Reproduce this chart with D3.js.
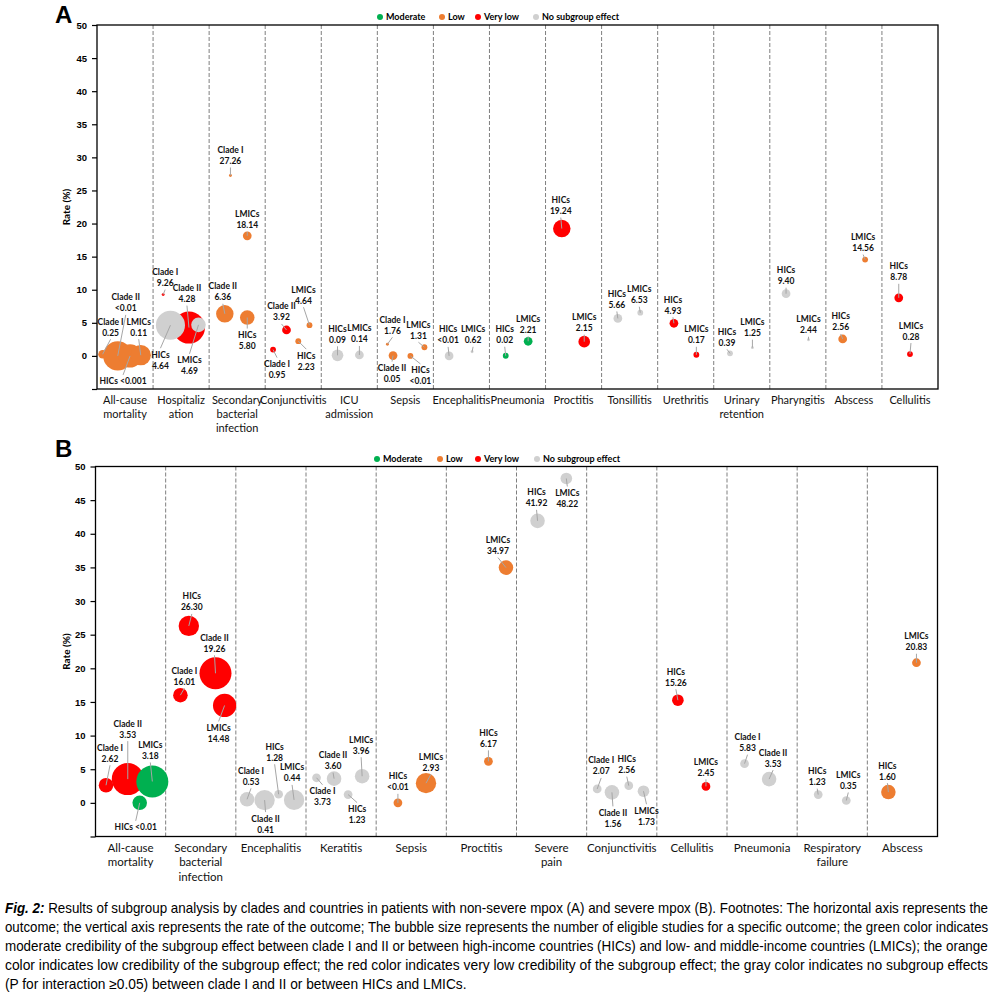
<!DOCTYPE html>
<html>
<head>
<meta charset="utf-8">
<script src="https://cdn.jsdelivr.net/npm/d3@7"></script>
<style>
  body { margin: 0; background: #fff; }
  svg { display: block; font-family: Lato, "Liberation Sans", sans-serif; }
  .tick text { font-size: 9.5px; font-weight: bold; fill: #000; }
  .tick line { stroke: #000; stroke-width: 1.2; }
</style>
</head>
<body>
<div id="chart"></div>
<script>
// Panel A: non-severe mpox
const catsA = ["All-cause\nmortality", "Hospitaliz\nation", "Secondary\nbacterial\ninfection", "Conjunctivitis",
  "ICU\nadmission", "Sepsis", "Encephalitis", "Pneumonia", "Proctitis", "Tonsillitis", "Urethritis",
  "Urinary\nretention", "Pharyngitis", "Abscess", "Cellulitis"]
const groupA = ["Clade I", "Clade II", "HICs", "LMICs",
  "Clade I", "Clade II", "HICs", "LMICs",
  "Clade I", "Clade II", "HICs", "LMICs",
  "Clade I", "Clade II", "HICs", "LMICs",
  "HICs", "LMICs",
  "Clade I", "Clade II", "HICs", "LMICs",
  "HICs", "LMICs", "HICs", "LMICs", "HICs", "LMICs", "HICs", "LMICs",
  "HICs", "LMICs", "HICs", "LMICs", "HICs", "LMICs", "HICs", "LMICs", "HICs", "LMICs"]
const xA = [0.10, 0.37, 0.59, 0.78,
  1.18, 1.64, 1.31, 1.81,
  2.38, 2.28, 2.68, 2.68,
  3.14, 3.38, 3.59, 3.79,
  4.29, 4.68,
  5.18, 5.28, 5.59, 5.84,
  6.28, 6.69, 7.29, 7.69, 8.29, 8.69, 9.29, 9.69,
  10.29, 10.69, 11.29, 11.69, 12.29, 12.69, 13.30, 13.70, 14.30, 14.50]
const rateA = [0.25, 0.005, 0.0005, 0.11,
  9.26, 4.28, 4.64, 4.69,
  27.26, 6.36, 5.80, 18.14,
  0.95, 3.92, 2.23, 4.64,
  0.09, 0.14,
  1.76, 0.05, 0.005, 1.31,
  0.005, 0.62, 0.02, 2.21, 19.24, 2.15, 5.66, 6.53,
  4.93, 0.17, 0.39, 1.25, 9.40, 2.44, 2.56, 14.56, 8.78, 0.28]
const studiesA = [3, 10, 8, 7,
  1, 11, 10, 5,
  1, 6, 5, 3,
  2, 3, 2, 2,
  4, 3,
  1, 3, 2, 2,
  3, 1, 2, 3, 6, 4, 3, 2,
  3, 2, 2, 1, 3, 1, 3, 2, 3, 2]
const credA = ["Low", "Low", "Low", "Low",
  "Very low", "Very low", "No subgroup effect", "No subgroup effect",
  "Low", "Low", "Low", "Low",
  "Very low", "Very low", "Low", "Low",
  "No subgroup effect", "No subgroup effect",
  "Low", "Low", "Low", "Low",
  "No subgroup effect", "No subgroup effect", "Moderate", "Moderate", "Very low", "Very low",
  "No subgroup effect", "No subgroup effect",
  "Very low", "Very low", "No subgroup effect", "No subgroup effect", "No subgroup effect", "No subgroup effect",
  "Low", "Low", "Very low", "Very low"]
// where the data label sits, px from the bubble centre
const labDxA = [8, 8, -7, -2, 2, -2, -10, -9, 0, -2, 0, 0, 4, -5, 8, -6, 0, 0, 5, -1, 10, -6,
  -1, 1, -1, 0, -1, 0, -1, -1, -1, 0, -3, 0, 0, 0, -2, -2, 0, 1]
const labDyA = [-27, -53, 25, -28, -17, -34, 35, 41, -20, -22, 23, -16, 20, -18, 20, -30, -21, -21, -19, 18, 20, -17,
  -21, -17, -21, -17, -23, -19, -19, -18, -18, -20, -16, -20, -18, -15, -17, -17, -26, -23]
const oneLineA = [2]

// Panel B: severe mpox
const catsB = ["All-cause\nmortality", "Secondary\nbacterial\ninfection", "Encephalitis", "Keratitis", "Sepsis",
  "Proctitis", "Severe\npain", "Conjunctivitis", "Cellulitis", "Pneumonia", "Respiratory\nfailure", "Abscess"]
const groupB = ["Clade I", "Clade II", "HICs", "LMICs",
  "Clade I", "Clade II", "HICs", "LMICs",
  "Clade I", "Clade II", "HICs", "LMICs",
  "Clade I", "Clade II", "HICs", "LMICs",
  "HICs", "LMICs", "HICs", "LMICs", "HICs", "LMICs",
  "Clade I", "Clade II", "HICs", "LMICs",
  "HICs", "LMICs", "Clade I", "Clade II", "HICs", "LMICs", "HICs", "LMICs"]
const xB = [0.15, 0.46, 0.63, 0.81,
  1.21, 1.71, 1.33, 1.84,
  2.16, 2.41, 2.61, 2.83,
  3.15, 3.40, 3.60, 3.80,
  4.31, 4.71, 5.60, 5.85, 6.30, 6.71,
  7.15, 7.36, 7.60, 7.81,
  8.30, 8.70, 9.25, 9.60, 10.30, 10.70, 11.30, 11.70]
const rateB = [2.62, 3.53, 0.005, 3.18,
  16.01, 19.26, 26.30, 14.48,
  0.53, 0.41, 1.28, 0.44,
  3.73, 3.60, 1.23, 3.96,
  0.005, 2.93, 6.17, 34.97, 41.92, 48.22,
  2.07, 1.56, 2.56, 1.73,
  15.26, 2.45, 5.83, 3.53, 1.23, 0.35, 1.60, 20.83]
const studiesB = [5, 11, 5, 11,
  5, 11, 7, 8,
  5, 7, 3, 7,
  3, 5, 3, 5,
  3, 7, 3, 5, 5, 4,
  3, 5, 3, 4,
  4, 3, 3, 5, 3, 3, 5, 3]
const credB = ["Very low", "Very low", "Moderate", "Moderate",
  "Very low", "Very low", "Very low", "Very low",
  "No subgroup effect", "No subgroup effect", "No subgroup effect", "No subgroup effect",
  "No subgroup effect", "No subgroup effect", "No subgroup effect", "No subgroup effect",
  "Low", "Low", "Low", "Low", "No subgroup effect", "No subgroup effect",
  "No subgroup effect", "No subgroup effect", "No subgroup effect", "No subgroup effect",
  "Very low", "Very low", "No subgroup effect", "No subgroup effect", "No subgroup effect", "No subgroup effect",
  "Low", "Low"]
const labDxB = [4, 0, -4, -2, 4, -1, 3, -6, 4, 1, -4, -2, 6, -1, 9, -1, 0, 5, 0, -8, -1, 1,
  4, 1, -2, 3, -2, 0, 3, 4, -1, 2, -1, 0]
const labDyB = [-32, -50, 24, -31, -19, -30, -24, 28, -23, 24, -42, -27, 19, -18, 20, -31, -21, -21, -23, -22, -23, 20,
  -23, 26, -21, 25, -23, -19, -21, -21, -18, -20, -21, -21]
const oneLineB = [2]

const legendItems = ["Moderate", "Low", "Very low", "No subgroup effect"]
const legendColors = ["#00b050", "#ed7d31", "#ff0000", "#d0d0d0"]
const yTicks = d3.range(-5, 51, 5)

const caption = [
  "Results of subgroup analysis by clades and countries in patients with non-severe mpox (A) and severe mpox (B). Footnotes: The horizontal axis represents the",
  "outcome; the vertical axis represents the rate of the outcome; The bubble size represents the number of eligible studies for a specific outcome; the green color indicates",
  "moderate credibility of the subgroup effect between clade I and II or between high-income countries (HICs) and low- and middle-income countries (LMICs); the orange",
  "color indicates low credibility of the subgroup effect; the red color indicates very low credibility of the subgroup effect; the gray color indicates no subgroup effects",
  "(P for interaction \u22650.05) between clade I and II or between HICs and LMICs."
]

const W = 993, H = 993
const svg = d3.select("#chart").append("svg").attr("width", W).attr("height", H)

const color = d3.scaleOrdinal().domain(legendItems).range(legendColors)
const radius = d3.scaleLinear().domain([0, 11]).range([0, 16])
const fmt = (v) => (v < 0.001 ? "<0.001" : v < 0.01 ? "<0.01" : v.toFixed(2))

function drawPanel(p) {
  const g = svg.append("g")
  const x = d3.scaleLinear().domain([0, p.cats.length]).range([p.left, p.right])
  const y = d3.scaleLinear().domain([-5, 50]).range([p.bottom, p.top])

  // dashed separators between outcomes
  g.selectAll(".sep")
    .data(d3.range(1, p.cats.length))
    .join("line")
    .attr("x1", (d) => x(d)).attr("x2", (d) => x(d))
    .attr("y1", p.top).attr("y2", p.bottom)
    .attr("stroke", "#7f7f7f")
    .attr("stroke-dasharray", "4,2")

  g.append("rect")
    .attr("x", p.left).attr("y", p.top)
    .attr("width", p.right - p.left).attr("height", p.bottom - p.top)
    .attr("fill", "none").attr("stroke", "#000").attr("stroke-width", 1.3)

  g.append("g")
    .attr("transform", `translate(${p.left},0)`)
    .call(d3.axisLeft(y).tickValues(yTicks).tickSize(5).tickPadding(5).tickFormat((d) => (d < 0 ? "" : d)))
    .call((a) => a.select(".domain").remove())

  g.append("text")
    .attr("transform", `translate(66,${(p.top + p.bottom) / 2}) rotate(-90)`)
    .attr("text-anchor", "middle")
    .attr("dy", "0.35em")
    .style("font-size", "10px").style("font-weight", "bold")
    .text("Rate (%)")

  // outcome names under the plot
  const cl = g.selectAll(".cat")
    .data(p.cats)
    .join("text")
    .attr("text-anchor", "middle")
    .style("font-size", p.catFont + "px")
    .attr("fill", "#111")
  cl.selectAll("tspan")
    .data((d, i) => d.split("\n").map((s) => ({ s, i })))
    .join("tspan")
    .attr("x", (d) => x(d.i + 0.5))
    .attr("y", (d, j) => p.bottom + 15 + j * p.catGap)
    .text((d) => d.s)

  // legend
  const lg = g.selectAll(".leg")
    .data(legendItems)
    .join("g")
    .attr("transform", (d, i) => `translate(${p.legX[i]},${p.legY})`)
  lg.append("circle").attr("r", 3).attr("fill", (d) => color(d))
  lg.append("text").attr("x", 6).attr("dy", "0.35em")
    .style("font-size", "9px").style("font-weight", "bold").text((d) => d)

  g.append("text")
    .attr("x", 55).attr("y", p.letterY)
    .style("font-family", "'Liberation Sans', Arial, sans-serif")
    .style("font-size", "24px").style("font-weight", "bold")
    .text(p.letter)

  const rows = p.group.map((grp, i) => ({
    grp,
    cx: x(p.xs[i]),
    cy: y(p.rate[i]),
    r: radius(p.studies[i]),
    fill: color(p.cred[i]),
    txt: fmt(p.rate[i]),
    lx: x(p.xs[i]) + p.dx[i],
    ly: y(p.rate[i]) + p.dy[i],
    one: p.oneLine.includes(i),
  }))

  g.selectAll(".bub")
    .data(rows)
    .join("circle")
    .attr("cx", (d) => d.cx).attr("cy", (d) => d.cy)
    .attr("r", (d) => d.r)
    .attr("fill", (d) => d.fill)

  // leader lines from label to bubble centre
  g.selectAll(".lead")
    .data(rows)
    .join("line")
    .attr("x1", (d) => d.lx)
    .attr("y1", (d) => d.ly + Math.sign(d.cy - d.ly) * (d.one ? 6 : 12))
    .attr("x2", (d) => d.cx).attr("y2", (d) => d.cy)
    .attr("stroke", "#a6a6a6").attr("stroke-width", 1)

  const lab = g.selectAll(".lab")
    .data(rows)
    .join("text")
    .attr("text-anchor", "middle")
    .style("font-size", "8.5px").style("font-weight", "bold")
    .attr("fill", "#111")
  lab.filter((d) => d.one)
    .attr("x", (d) => d.lx).attr("y", (d) => d.ly + 3)
    .text((d) => `${d.grp} ${d.txt}`)
  lab.filter((d) => !d.one)
    .selectAll("tspan")
    .data((d) => [d.grp, d.txt].map((s, j) => ({ s, j, d })))
    .join("tspan")
    .attr("x", (t) => t.d.lx)
    .attr("y", (t) => t.d.ly - 2.5 + t.j * 11)
    .text((t) => t.s)
}

drawPanel({
  cats: catsA, group: groupA, xs: xA, rate: rateA, studies: studiesA, cred: credA,
  dx: labDxA, dy: labDyA, oneLine: oneLineA,
  left: 97, right: 938, top: 25, bottom: 389,
  catFont: 11, catGap: 14,
  legX: [380, 442, 478, 536], legY: 17, letter: "A", letterY: 23,
})

drawPanel({
  cats: catsB, group: groupB, xs: xB, rate: rateB, studies: studiesB, cred: credB,
  dx: labDxB, dy: labDyB, oneLine: oneLineB,
  left: 95.5, right: 937.5, top: 466.5, bottom: 836.5,
  catFont: 11.5, catGap: 14.5,
  legX: [377, 440, 478, 537], legY: 459, letter: "B", letterY: 457,
})

// caption: each line set at natural width, then squeezed to the column width
const cap = svg.append("g")
  .style("font-family", "'Liberation Sans Narrow', 'Liberation Sans', sans-serif")
  .style("font-size", "14px")
cap.selectAll("text")
  .data(caption)
  .join("text")
  .each(function (d, i) {
    const t = d3.select(this)
    if (i === 0) {
      t.append("tspan").style("font-weight", "bold").style("font-style", "italic").text("Fig. 2:")
      t.append("tspan").text(" " + d)
    } else {
      t.text(d)
    }
    const target = i < 4 ? 984 : 462
    const k = target / this.getComputedTextLength()
    t.attr("transform", `translate(5,${913 + i * 19}) scale(${k},1)`)
  })
</script>
</body>
</html>
